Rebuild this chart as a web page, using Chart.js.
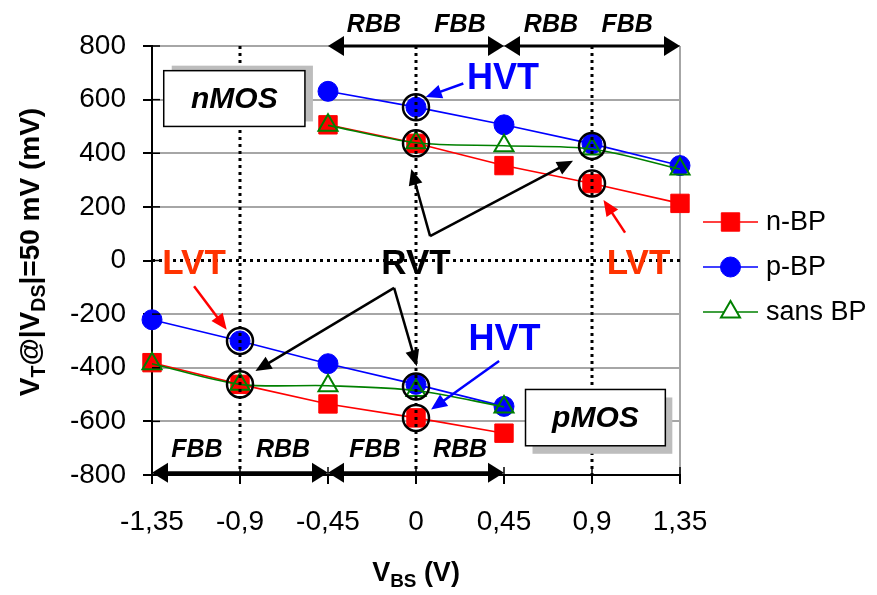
<!DOCTYPE html>
<html>
<head>
<meta charset="utf-8">
<script src="https://cdn.jsdelivr.net/npm/chart.js@4.4.1/dist/chart.umd.min.js"></script>
<style>
  html, body { margin: 0; padding: 0; background: #fff; }
</style>
</head>
<body>
<canvas id="myChart" width="877" height="595"></canvas>
<script>
// values
const xTicks = [-1.35, -0.9, -0.45, 0, 0.45, 0.9, 1.35];
const xTickLabels = ["-1,35", "-0,9", "-0,45", "0", "0,45", "0,9", "1,35"];
const yTicks = [-800, -600, -400, -200, 0, 200, 400, 600, 800];

const vbsNmos = [-0.45, 0, 0.45, 0.9, 1.35];
const vbsPmos = [-1.35, -0.9, -0.45, 0, 0.45];

const nbpNmos = [506, 437, 354, 287, 213];
const nbpPmos = [-381, -462, -535, -587, -644];
const pbpNmos = [631, 572, 506, 435, 354];
const pbpPmos = [-221, -300, -385, -462, -544];
const sansNmos = [504, 439, 428, 416, 341];
const sansPmos = [-385, -462, -467, -485, -546];

const seriesNames = ["n-BP", "p-BP", "sans BP"];

// annotation texts, placed in data units
const circled = [[0, 572], [0, 437], [0.9, 427], [0.9, 287], [-0.9, -300], [-0.9, -462], [0, -470], [0, -587]];

const FONT = "'Liberation Sans', Arial, sans-serif";

function pts(xs, ys) {
  return xs.map((x, i) => ({ x: x, y: ys[i] }));
}

function ds(label, data, color, style, radius, order, tension) {
  return {
    label: label,
    data: data,
    borderColor: color,
    backgroundColor: style === "triangle" ? "rgba(0,0,0,0)" : color,
    pointBorderColor: color,
    pointBackgroundColor: style === "triangle" ? "rgba(0,0,0,0)" : color,
    pointStyle: style,
    pointRadius: radius,
    pointBorderWidth: style === "triangle" ? 2 : 1,
    borderWidth: 1.6,
    tension: tension || 0,
    order: order,
    clip: false,
  };
}

function arrow(ctx, x1, y1, x2, y2, color, lw, hl, hw) {
  const a = Math.atan2(y2 - y1, x2 - x1);
  ctx.strokeStyle = color;
  ctx.fillStyle = color;
  ctx.lineWidth = lw;
  ctx.beginPath();
  ctx.moveTo(x1, y1);
  ctx.lineTo(x2 - Math.cos(a) * hl * 0.8, y2 - Math.sin(a) * hl * 0.8);
  ctx.stroke();
  ctx.beginPath();
  ctx.moveTo(x2, y2);
  ctx.lineTo(x2 - Math.cos(a) * hl - Math.sin(a) * hw, y2 - Math.sin(a) * hl + Math.cos(a) * hw);
  ctx.lineTo(x2 - Math.cos(a) * hl + Math.sin(a) * hw, y2 - Math.sin(a) * hl - Math.cos(a) * hw);
  ctx.closePath();
  ctx.fill();
}

function richText(ctx, parts, x, y, size) {
  // parts: [text, isSub]
  let w = 0;
  parts.forEach((p) => {
    ctx.font = "bold " + (p[1] ? size * 0.7 : size) + "px " + FONT;
    w += ctx.measureText(p[0]).width;
  });
  let cx = x - w / 2;
  ctx.textAlign = "left";
  ctx.textBaseline = "alphabetic";
  parts.forEach((p) => {
    ctx.font = "bold " + (p[1] ? size * 0.7 : size) + "px " + FONT;
    ctx.fillText(p[0], cx, p[1] ? y + size * 0.22 : y);
    cx += ctx.measureText(p[0]).width;
  });
}

const extras = {
  id: "extras",
  afterDatasetsDraw(chart) {
    const ctx = chart.ctx;
    const xs = chart.scales.x;
    const ys = chart.scales.y;
    const X = (v) => xs.getPixelForValue(v);
    const Y = (v) => ys.getPixelForValue(v);
    const area = chart.chartArea;
    ctx.save();

    // inner half of the crossing tick marks
    ctx.strokeStyle = "#000";
    ctx.lineWidth = 1.5;
    yTicks.forEach((v) => {
      ctx.beginPath();
      ctx.moveTo(area.left, Y(v));
      ctx.lineTo(area.left + 8, Y(v));
      ctx.stroke();
    });
    xTicks.forEach((v) => {
      ctx.beginPath();
      ctx.moveTo(X(v), area.bottom);
      ctx.lineTo(X(v), area.bottom - 8);
      ctx.stroke();
    });

    // dotted reference lines
    ctx.setLineDash([3, 4]);
    ctx.lineWidth = 3;
    ctx.strokeStyle = "#000";
    [-0.9, 0, 0.9].forEach((v) => {
      ctx.beginPath();
      ctx.moveTo(X(v), area.top);
      ctx.lineTo(X(v), area.bottom);
      ctx.stroke();
    });
    ctx.beginPath();
    ctx.moveTo(area.left, Y(0));
    ctx.lineTo(area.right, Y(0));
    ctx.stroke();
    ctx.setLineDash([]);

    // circles round the chosen points
    ctx.lineWidth = 2.5;
    circled.forEach((c) => {
      ctx.beginPath();
      ctx.arc(X(c[0]), Y(c[1]), 13, 0, Math.PI * 2);
      ctx.stroke();
    });

    // boxes
    function box(x1, y1, x2, y2, dx, dy, label) {
      const l = X(x1), t = Y(y1), r = X(x2), b = Y(y2);
      ctx.fillStyle = "#bdbdbd";
      ctx.fillRect(l + dx, t + dy, r - l, b - t);
      ctx.fillStyle = "#fff";
      ctx.fillRect(l, t, r - l, b - t);
      ctx.strokeStyle = "#000";
      ctx.lineWidth = 1.5;
      ctx.strokeRect(l, t, r - l, b - t);
      ctx.fillStyle = "#000";
      ctx.font = "italic bold 30px " + FONT;
      ctx.textAlign = "center";
      ctx.textBaseline = "middle";
      ctx.fillText(label, (l + r) / 2, (t + b) / 2 + 1);
    }
    box(-1.29, 708, -0.568, 500, 8, -5, "nMOS");
    box(0.56, -481, 1.275, -691, 7, 8, "pMOS");

    // bias ranges
    function bracket(a, b, yv) {
      const m = (X(a) + X(b)) / 2;
      arrow(ctx, m, Y(yv), X(a), Y(yv), "#000", 3, 16, 10);
      arrow(ctx, m, Y(yv), X(b), Y(yv), "#000", 3, 16, 10);
    }
    bracket(-0.45, 0.45, 800);
    bracket(0.45, 1.35, 800);
    bracket(-1.35, -0.45, -792);
    bracket(-0.45, 0.45, -792);
    ctx.fillStyle = "#000";
    ctx.font = "italic bold 25px " + FONT;
    ctx.textAlign = "center";
    ctx.textBaseline = "middle";
    [["RBB", -0.215], ["FBB", 0.225], ["RBB", 0.69], ["FBB", 1.08]].forEach((t) => {
      ctx.fillText(t[0], X(t[1]), 25);
    });
    [["FBB", -1.12], ["RBB", -0.68], ["FBB", -0.21], ["RBB", 0.225]].forEach((t) => {
      ctx.fillText(t[0], X(t[1]), 450);
    });

    // pointer arrows
    arrow(ctx, X(0.242), Y(660), X(0.05), Y(610), "#0000ff", 2.5, 16, 7);
    arrow(ctx, X(0.425), Y(-375), X(0.077), Y(-556), "#0000ff", 2.5, 16, 7);
    arrow(ctx, X(-1.135), Y(-96), X(-0.968), Y(-258), "#ff0000", 2.5, 16, 7);
    arrow(ctx, X(1.069), Y(104), X(0.959), Y(226), "#ff0000", 2.5, 16, 7);
    arrow(ctx, X(0.072), Y(91), X(-0.024), Y(341), "#000", 2.5, 16, 7);
    arrow(ctx, X(0.072), Y(91), X(0.803), Y(372), "#000", 2.5, 16, 7);
    arrow(ctx, X(-0.112), Y(-102), X(-0.821), Y(-412), "#000", 2.5, 16, 7);
    arrow(ctx, X(-0.112), Y(-102), X(0.004), Y(-394), "#000", 2.5, 16, 7);

    // state labels
    ctx.textAlign = "center";
    ctx.textBaseline = "middle";
    ctx.font = "bold 36px " + FONT;
    ctx.fillStyle = "#0000ff";
    ctx.fillText("HVT", X(0.445), Y(679) + 1);
    ctx.fillText("HVT", X(0.453), Y(-294) + 1);
    ctx.font = "bold 35px " + FONT;
    ctx.fillStyle = "#ff3300";
    ctx.fillText("LVT", X(-1.135), Y(-12) + 1);
    ctx.fillText("LVT", X(1.138), Y(-12) + 1);
    ctx.fillStyle = "#000";
    ctx.fillText("RVT", X(0), Y(-12) + 1);

    // axis titles
    ctx.fillStyle = "#000";
    richText(ctx, [["V", 0], ["BS", 1], [" (V)", 0]], (area.left + area.right) / 2, 581, 27);
    ctx.save();
    ctx.translate(39, 252);
    ctx.rotate(-Math.PI / 2);
    richText(ctx, [["V", 0], ["T", 1], ["@|V", 0], ["DS", 1], ["|=50 mV (mV)", 0]], 0, 0, 28);
    ctx.restore();

    // legend
    const colors = ["#ff0000", "#0000ff", "#008000"];
    const styles = ["rect", "circle", "triangle"];
    const radii = [13, 10, 11];
    seriesNames.forEach((name, i) => {
      const yy = 222 + i * 45;
      ctx.strokeStyle = colors[i];
      ctx.lineWidth = 1.6;
      ctx.beginPath();
      ctx.moveTo(703, yy);
      ctx.lineTo(758, yy);
      ctx.stroke();
      ctx.fillStyle = i === 2 ? "#fff" : colors[i];
      ctx.lineWidth = i === 2 ? 2 : 1;
      Chart.helpers.drawPoint(ctx, { pointStyle: styles[i], rotation: 0, radius: radii[i], borderWidth: ctx.lineWidth }, 730.5, yy);
      ctx.fillStyle = "#000";
      ctx.font = "27px " + FONT;
      ctx.textAlign = "left";
      ctx.textBaseline = "middle";
      ctx.fillText(name, 766, yy + 1);
    });

    ctx.restore();
  },
};

const ctx = document.getElementById("myChart");

new Chart(ctx, {
  type: "line",
  data: {
    datasets: [
      ds(seriesNames[0], pts(vbsNmos, nbpNmos), "#ff0000", "rect", 13, 3),
      ds(seriesNames[0], pts(vbsPmos, nbpPmos), "#ff0000", "rect", 13, 3),
      ds(seriesNames[1], pts(vbsNmos, pbpNmos), "#0000ff", "circle", 10, 2),
      ds(seriesNames[1], pts(vbsPmos, pbpPmos), "#0000ff", "circle", 10, 2),
      ds(seriesNames[2], pts(vbsNmos, sansNmos), "#008000", "triangle", 11, 1, 0.3),
      ds(seriesNames[2], pts(vbsPmos, sansPmos), "#008000", "triangle", 11, 1, 0.3),
    ],
  },
  options: {
    responsive: false,
    animation: false,
    devicePixelRatio: 1,
    layout: {
      padding: { top: 46, right: 197, left: 0, bottom: 0 },
    },
    plugins: {
      legend: { display: false },
      tooltip: { enabled: false },
    },
    scales: {
      x: {
        type: "linear",
        min: -1.35,
        max: 1.35,
        afterBuildTicks: (scale) => {
          scale.ticks = xTicks.map((v) => ({ value: v }));
        },
        afterFit: (scale) => {
          scale.height = 120;
        },
        ticks: {
          autoSkip: false,
          maxRotation: 0,
          padding: 21,
          color: "#000",
          font: { family: FONT, size: 28 },
          callback: (value) => {
            const i = xTicks.findIndex((t) => Math.abs(t - value) < 1e-6);
            return i >= 0 ? xTickLabels[i] : "";
          },
        },
        grid: {
          color: (c) => (c.tick && Math.abs(c.tick.value - 1.35) < 1e-6 ? "#a6a6a6" : "rgba(0,0,0,0)"),
          lineWidth: 2,
          tickColor: "#000",
          tickLength: 9,
        },
        border: { color: "#000", width: 2 },
      },
      y: {
        min: -800,
        max: 800,
        afterBuildTicks: (scale) => {
          scale.ticks = yTicks.map((v) => ({ value: v }));
        },
        afterFit: (scale) => {
          scale.width = 152;
        },
        ticks: {
          padding: 17,
          color: "#000",
          font: { family: FONT, size: 28 },
        },
        grid: {
          color: (c) => (c.tick && c.tick.value === 0 ? "rgba(0,0,0,0)" : "#a6a6a6"),
          lineWidth: 2,
          tickColor: "#000",
          tickLength: 9,
        },
        border: { color: "#000", width: 2 },
      },
    },
  },
  plugins: [extras],
});
</script>
</body>
</html>
